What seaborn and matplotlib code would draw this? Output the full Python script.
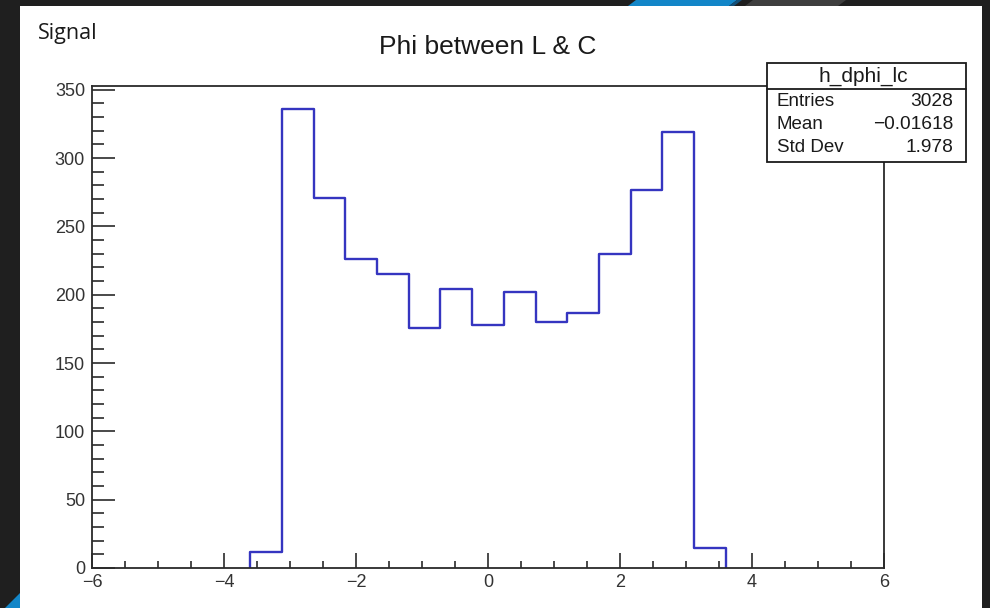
import numpy as np
import pandas as pd
import matplotlib
matplotlib.use("Agg")
import matplotlib.pyplot as plt
from matplotlib.patches import Rectangle, Polygon
from matplotlib.lines import Line2D
from matplotlib.ticker import MultipleLocator
import seaborn as sns

# Histogram of delta-phi between lepton and charm candidate
bin_edges = np.linspace(-3.6, 3.6, 16)
bin_counts = [12, 336, 271, 226, 215, 176, 204, 178, 202, 180, 187, 230, 277, 319, 15]

hist_name = "h_dphi_lc"
stat_labels = ["Entries", "Mean", "Std Dev"]
stat_values = ["3028", "\u22120.01618", "1.978"]
title_text = "Phi between L & C"
corner_text = "Signal"

sns.set_style("ticks")
plt.rcParams["font.family"] = ["Liberation Sans", "DejaVu Sans"]

W, H = 990, 608
fig = plt.figure(figsize=(W / 100, H / 100), dpi=100)
fig.patch.set_facecolor("#1f1f1f")


def fx(x):
    return x / W


def fy(y):
    return 1 - y / H


# slide panel and accents
fig.add_artist(Rectangle((fx(20), 0), fx(982) - fx(20), fy(6), transform=fig.transFigure,
                         facecolor="white", edgecolor="none", zorder=0))
fig.add_artist(Polygon([(fx(628), fy(6)), (fx(636), fy(0)), (fx(737), fy(0)), (fx(729), fy(6))],
                       closed=True, transform=fig.transFigure, facecolor="#1386c8", edgecolor="none"))
fig.add_artist(Polygon([(fx(729), fy(6)), (fx(737), fy(0)), (fx(742), fy(0)), (fx(734), fy(6))],
                       closed=True, transform=fig.transFigure, facecolor="#12507a", edgecolor="none"))
fig.add_artist(Polygon([(fx(745), fy(6)), (fx(753), fy(0)), (fx(846), fy(0)), (fx(838), fy(6))],
                       closed=True, transform=fig.transFigure, facecolor="#3e3e3e", edgecolor="none"))
fig.add_artist(Polygon([(fx(5), fy(608)), (fx(20), fy(593)), (fx(20), fy(608))],
                       closed=True, transform=fig.transFigure, facecolor="#1386c8", edgecolor="none"))

ax = fig.add_axes([fx(92), fy(568), fx(884) - fx(92), fy(86) - fy(568)])
ax.set_facecolor("white")

centers = (bin_edges[:-1] + bin_edges[1:]) / 2
df = pd.DataFrame({"dphi": centers, "n": bin_counts})
# tiny empty bins on both sides so the outline drops to zero at the range edges
plot_edges = [float(bin_edges[0] - 1e-3)] + [float(e) for e in bin_edges] + [float(bin_edges[-1] + 1e-3)]
sns.histplot(data=df, x="dphi", weights="n", bins=plot_edges, element="step", fill=False,
             color="#3535c0", linewidth=1.7, ax=ax)

ax.set_xlim(-6, 6)
ax.set_ylim(0, 352.8)
ax.set_xlabel("")
ax.set_ylabel("")

ax.xaxis.set_major_locator(MultipleLocator(2))
ax.xaxis.set_minor_locator(MultipleLocator(0.5))
ax.yaxis.set_major_locator(MultipleLocator(50))
ax.yaxis.set_minor_locator(MultipleLocator(10))

for sp in ax.spines.values():
    sp.set_color("#2a2a2a")
    sp.set_linewidth(1.3)
    sp.set_visible(True)

ax.tick_params(axis="x", which="major", direction="in", length=10.5, width=1.2, color="#2a2a2a",
               labelsize=13, labelcolor="#333333", pad=4, top=False)
ax.tick_params(axis="x", which="minor", direction="in", length=5, width=1.2, color="#2a2a2a", top=False)
ax.tick_params(axis="y", which="major", direction="in", length=16.5, width=1.2, color="#2a2a2a",
               labelsize=13, labelcolor="#333333", pad=5, right=False)
ax.tick_params(axis="y", which="minor", direction="in", length=8.5, width=1.2, color="#2a2a2a", right=False)

# title and corner label
fig.text(fx(488), fy(47), title_text, ha="center", va="center", fontsize=19, color="#1a1a1a")
fig.text(fx(38), fy(34), corner_text, ha="left", va="center", fontsize=15.5, color="#1a1a1a",
         family=["Open Sans", "DejaVu Sans"])

# statistics box
bx0, bx1, by0, by1, byh = 767, 966, 63, 162, 89
fig.add_artist(Rectangle((fx(bx0), fy(by1)), fx(bx1) - fx(bx0), fy(by0) - fy(by1),
                         transform=fig.transFigure, facecolor="white", edgecolor="#1a1a1a",
                         linewidth=1.3, zorder=5))
fig.add_artist(Line2D([fx(bx0), fx(bx1)], [fy(byh), fy(byh)], transform=fig.transFigure,
                      color="#1a1a1a", linewidth=1.3, zorder=6))
fig.text(fx(863), fy(76), hist_name, ha="center", va="center", fontsize=15,
         color="#1a1a1a", zorder=7)
for i, (lab, val) in enumerate(zip(stat_labels, stat_values)):
    yy = fy(101 + i * 23.5)
    fig.text(fx(777), yy, lab, ha="left", va="center", fontsize=13.5, color="#1a1a1a", zorder=7)
    fig.text(fx(953), yy, val, ha="right", va="center", fontsize=13.8, color="#1a1a1a", zorder=7)

fig.savefig("out.png", dpi=100, facecolor=fig.get_facecolor())
